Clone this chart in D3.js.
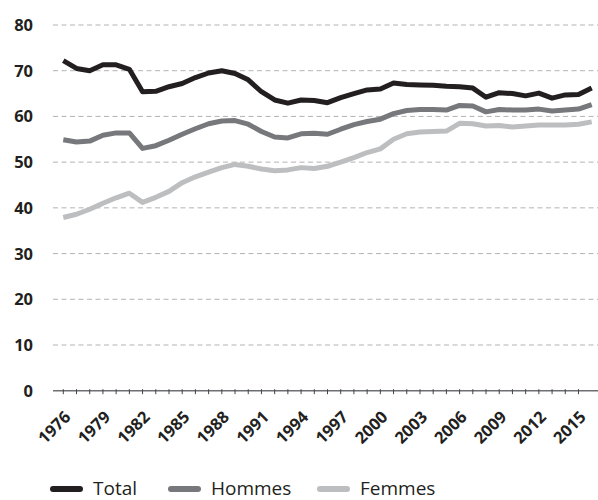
<!DOCTYPE html>
<html lang="fr">
<head>
<meta charset="UTF-8">
<title>Taux d'emploi</title>
<script src="https://d3js.org/d3.v7.min.js"></script>
<style>
    body { margin: 0; background: #fff; }
    svg { display: block; }
    .ylab, .xlab { font-family: "Open Sans", sans-serif; font-weight: bold; fill: #231f20; }
    .leg { font-family: "Open Sans", sans-serif; font-size: 19px; fill: #231f20; }
</style>
</head>
<body>
<svg width="598" height="500"></svg>
<script>
    // années (la dernière n'a pas d'étiquette sur l'axe)
    const years = d3.range(1976, 2017);
    const total = [72.2, 70.5, 70.0, 71.3, 71.3, 70.3, 65.4, 65.5, 66.5, 67.2,
        68.5, 69.5, 70.0, 69.4, 68.0, 65.4, 63.6, 62.9, 63.6, 63.5,
        63.0, 64.1, 65.0, 65.8, 66.0, 67.3, 67.0, 66.9, 66.8, 66.6,
        66.5, 66.2, 64.2, 65.2, 65.0, 64.5, 65.1, 64.0, 64.7, 64.8, 66.2];
    const hommes = [54.9, 54.4, 54.6, 55.9, 56.4, 56.4, 53.0, 53.6, 54.8, 56.1,
        57.3, 58.4, 59.0, 59.1, 58.3, 56.7, 55.5, 55.3, 56.2, 56.3,
        56.1, 57.2, 58.2, 58.9, 59.4, 60.6, 61.3, 61.5, 61.5, 61.4,
        62.4, 62.3, 61.0, 61.5, 61.4, 61.4, 61.6, 61.2, 61.4, 61.6, 62.6];
    const femmes = [37.9, 38.6, 39.7, 41.0, 42.2, 43.2, 41.2, 42.3, 43.6, 45.5,
        46.8, 47.8, 48.8, 49.5, 49.1, 48.5, 48.1, 48.3, 48.8, 48.6,
        49.1, 50.0, 51.0, 52.1, 52.9, 55.0, 56.2, 56.6, 56.7, 56.8,
        58.5, 58.4, 57.9, 58.0, 57.7, 57.9, 58.1, 58.1, 58.1, 58.3, 58.8];
    const yTicks = [0, 10, 20, 30, 40, 50, 60, 70, 80];
    const tickYears = d3.range(1976, 2016);
    const labelYears = d3.range(1976, 2016, 3);

    const series = [
        {name: "Total", values: total, color: "#231f20"},
        {name: "Hommes", values: hommes, color: "#77787b"},
        {name: "Femmes", values: femmes, color: "#bcbec0"}
    ];

    const svg = d3.select("svg");
    const x = d3.scaleLinear().domain([1976, 2016]).range([63.3, 591.7]);
    const y = d3.scaleLinear().domain([0, 80]).range([390.7, 25]);
    const gridLeft = 53, gridRight = 598;

    // grille pointillée
    svg.append("g").selectAll("line")
        .data(yTicks.filter(d => d > 0))
        .join("line")
        .attr("x1", gridLeft).attr("x2", gridRight)
        .attr("y1", d => y(d)).attr("y2", d => y(d))
        .attr("stroke", "#b3b3b3")
        .attr("stroke-width", 1)
        .attr("stroke-dasharray", "5,3.5");

    // étiquettes de l'axe y
    svg.append("g").selectAll("text")
        .data(yTicks)
        .join("text")
        .attr("class", "ylab")
        .attr("x", 33)
        .attr("y", d => y(d))
        .attr("dy", "0.36em")
        .attr("text-anchor", "end")
        .attr("font-size", 16.5)
        .text(d => d);

    // axe x
    const axisY = y(0);
    svg.append("line")
        .attr("x1", gridLeft).attr("x2", gridRight)
        .attr("y1", axisY).attr("y2", axisY)
        .attr("stroke", "#6d6e71")
        .attr("stroke-width", 1.5);

    svg.append("g").selectAll("line")
        .data(tickYears)
        .join("line")
        .attr("x1", d => x(d)).attr("x2", d => x(d))
        .attr("y1", axisY - 1.5).attr("y2", axisY + 3.5)
        .attr("stroke", "#444")
        .attr("stroke-width", 1);

    svg.append("g").selectAll("text")
        .data(labelYears)
        .join("text")
        .attr("class", "xlab")
        .attr("font-size", 16.5)
        .attr("text-anchor", "end")
        .attr("dy", "0.72em")
        .attr("transform", d => `translate(${x(d)},${axisY + 19}) rotate(-45)`)
        .text(d => d);

    // courbes
    const line = d3.line()
        .x((d, i) => x(years[i]))
        .y(d => y(d));

    svg.append("g").selectAll("path")
        .data(series.slice().reverse())
        .join("path")
        .attr("d", d => line(d.values))
        .attr("fill", "none")
        .attr("stroke", d => d.color)
        .attr("stroke-width", 5)
        .attr("stroke-linejoin", "round")
        .attr("stroke-linecap", "butt");

    // légende
    const legX = [53, 171, 320];
    const legY = 489;
    const leg = svg.append("g").selectAll("g")
        .data(series)
        .join("g")
        .attr("transform", (d, i) => `translate(${legX[i]},${legY})`);
    leg.append("line")
        .attr("x1", 0).attr("x2", 27)
        .attr("stroke", d => d.color)
        .attr("stroke-width", 6)
        .attr("stroke-linecap", "round");
    leg.append("text")
        .attr("class", "leg")
        .attr("x", 40)
        .attr("y", 6)
        .text(d => d.name);
</script>
</body>
</html>
